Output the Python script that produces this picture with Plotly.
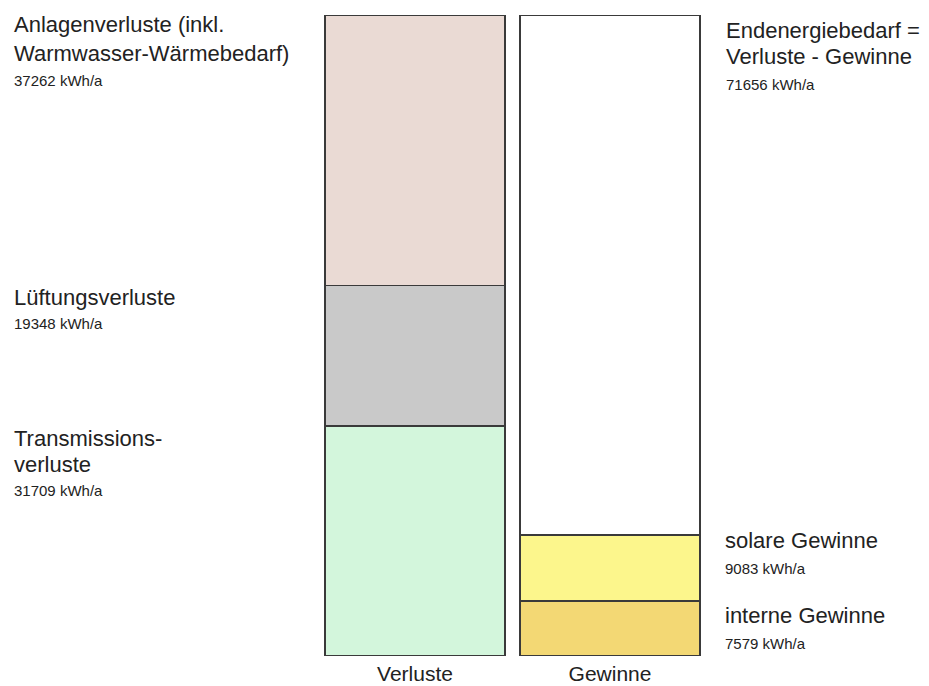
import plotly.graph_objects as go

# ---------------- data ----------------
categories = ["Verluste", "Gewinne"]

# stack levels, bottom to top: [Verluste segment, Gewinne segment]
level1_names = ["Transmissions-\nverluste", "interne Gewinne"]
level1_values = [31709, 7579]
level2_names = ["Lüftungsverluste", "solare Gewinne"]
level2_values = [19348, 9083]
level3_names = ["Anlagenverluste (inkl.\nWarmwasser-Wärmebedarf)", "Endenergiebedarf =\nVerluste - Gewinne"]
level3_values = [37262, 71656]
unit = "kWh/a"

# ---------------- style ----------------
level1_colors = ["#d3f6dc", "#f3d874"]
level2_colors = ["#c9c9c9", "#fcf68c"]
level3_colors = ["#eadad4", "#ffffff"]
FONT = "Liberation Sans, Arial, sans-serif"
W, H = 929, 686
MT, MB = 15, 30
plot_h = H - MT - MB

def py2paper(py):
    return (H - MB - py) / plot_h

fig = go.Figure()
for vals, cols, names in [(level1_values, level1_colors, level1_names),
                          (level2_values, level2_colors, level2_names),
                          (level3_values, level3_colors, level3_names)]:
    fig.add_trace(go.Bar(
        x=categories, y=vals,
        marker=dict(color=cols, line=dict(color="#3a3a3a", width=1.5)),
        hoverinfo="skip", showlegend=False,
    ))

total = max(sum(v) for v in zip(level1_values, level2_values, level3_values))

# label placement (pixel y of cap-centre of first line), x in pixels
label_layout = {
    level3_names[0]: (12, 24),
    level2_names[0]: (12, 297),
    level1_names[0]: (12, 438),
    level3_names[1]: (724, 30),
    level2_names[1]: (723, 540),
    level1_names[1]: (723, 615),
}
all_names = level1_names + level2_names + level3_names
all_values = level1_values + level2_values + level3_values
annotations = []
for name, val in zip(all_names, all_values):
    x0, y0 = label_layout[name]
    lines = name.split("\n")
    step = 30 if name.startswith("Anlagen") else 26
    for i, ln in enumerate(lines):
        annotations.append(dict(
            x=x0 / W, y=py2paper(y0 + i * step), xref="paper", yref="paper",
            xanchor="left", yanchor="middle", showarrow=False, text=ln,
            font=dict(family=FONT, size=22, color="#222222")))
    gap = 28 if x0 > W / 2 else 26.5
    ysmall = y0 + (len(lines) - 1) * step + gap
    annotations.append(dict(
        x=x0 / W, y=py2paper(ysmall), xref="paper", yref="paper",
        xanchor="left", yanchor="middle", showarrow=False,
        text=f"{val} {unit}",
        font=dict(family=FONT, size=15, color="#222222")))

# x axis: bars centred at 415 and 610 px, width 180 px
spacing = 195.0
fig.update_layout(
    width=W, height=H,
    margin=dict(l=0, r=0, t=MT, b=MB),
    paper_bgcolor="white", plot_bgcolor="white",
    barmode="stack", bargap=1 - 180 / spacing,
    xaxis=dict(type="category", range=[-415 / spacing, (W - 415) / spacing],
               showgrid=False, zeroline=False, showline=False,
               ticks="", ticklabelstandoff=3,
               tickfont=dict(family=FONT, size=21, color="#222222"),
               automargin=False, fixedrange=True),
    yaxis=dict(range=[0, total], visible=False, automargin=False, fixedrange=True),
    annotations=annotations,
)

fig.write_html("out.html", config={"displayModeBar": False, "staticPlot": True},
               post_script="document.body.style.margin='0';")
